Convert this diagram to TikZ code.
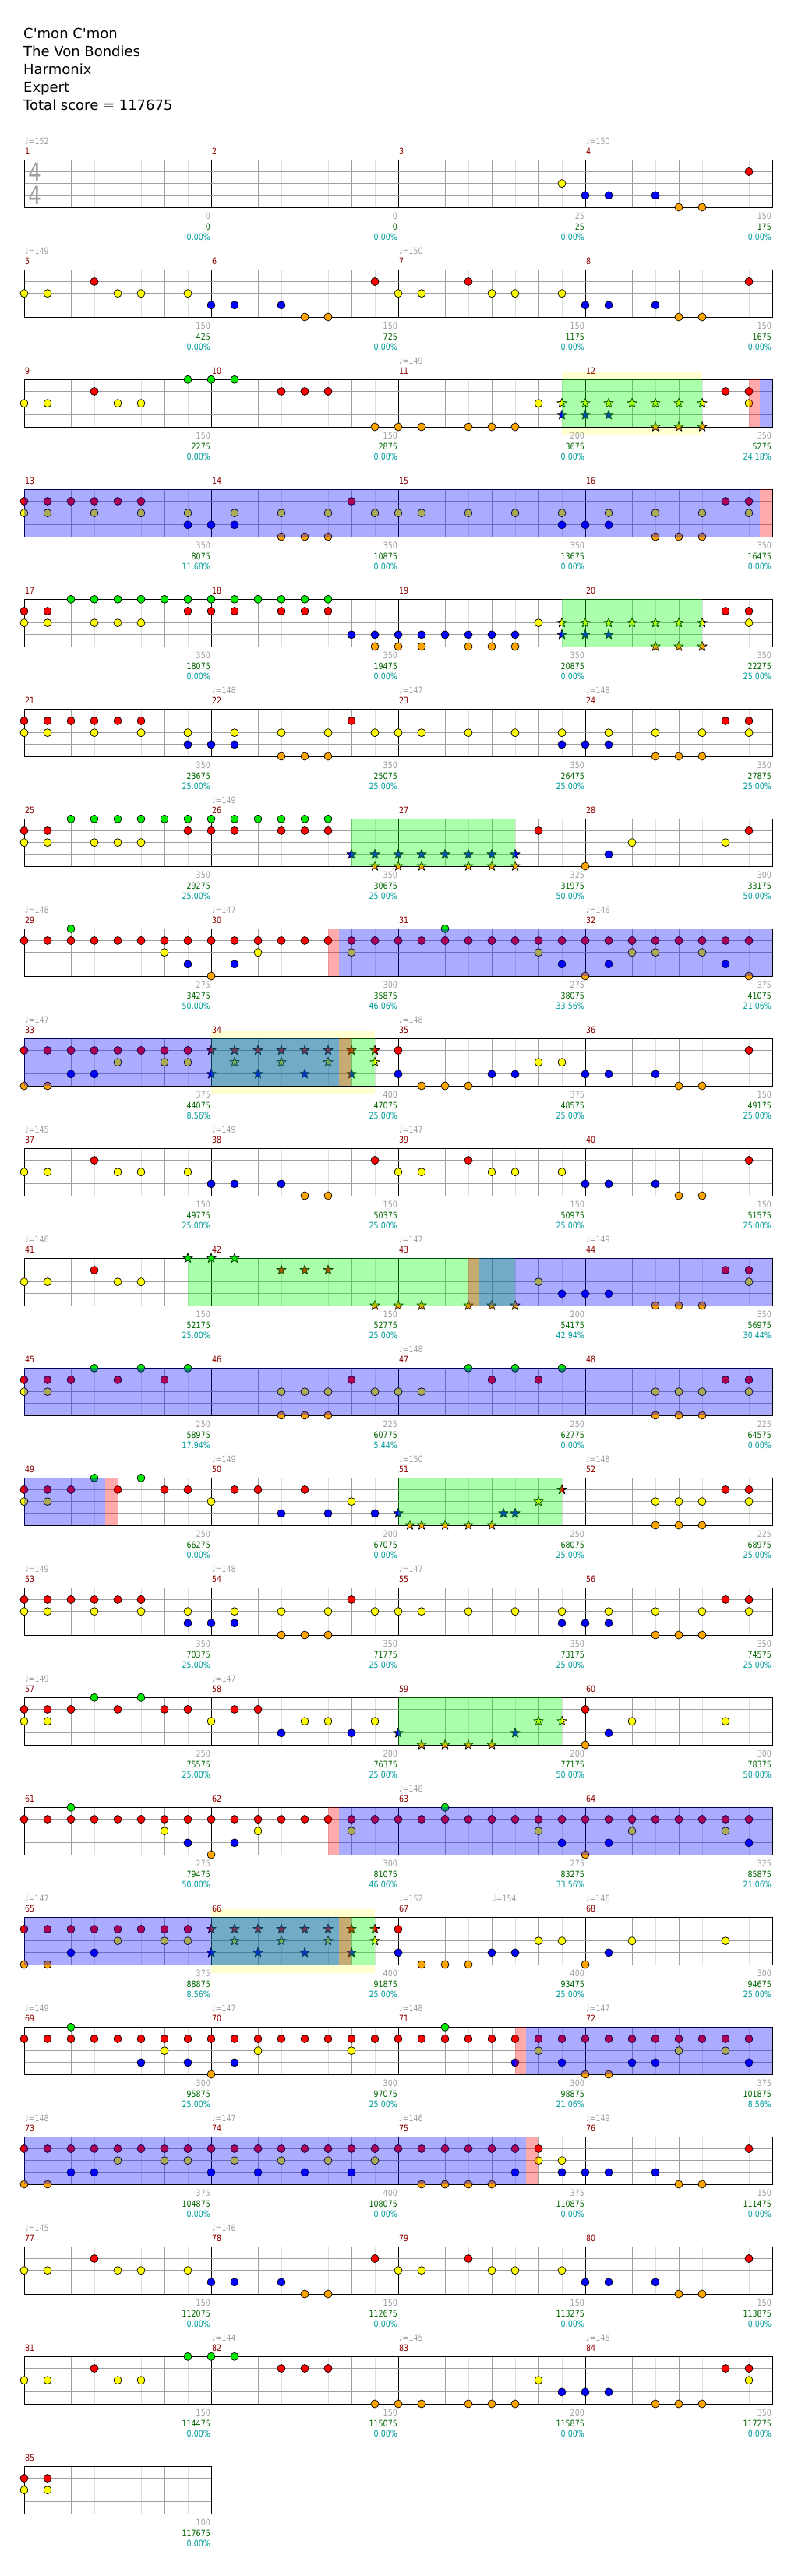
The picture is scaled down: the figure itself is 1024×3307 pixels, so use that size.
\documentclass[tikz,border=0pt]{standalone}
\usepackage{fontspec}
\setmainfont{DejaVu Sans}
\newfontfamily\lblfont[FakeStretch=0.83]{DejaVu Sans}
\usetikzlibrary{arrows}

\definecolor{lane0}{RGB}{0,235,0}
\definecolor{lane1}{RGB}{255,0,0}
\definecolor{lane2}{RGB}{255,255,0}
\definecolor{lane3}{RGB}{0,0,255}
\definecolor{lane4}{RGB}{255,165,0}
\definecolor{barred}{RGB}{139,0,0}
\definecolor{labgray}{RGB}{160,160,160}
\definecolor{labgreen}{RGB}{0,100,0}
\definecolor{labcyan}{RGB}{0,155,155}
\definecolor{gridlight}{RGB}{222,222,222}
\definecolor{gridmid}{RGB}{160,160,160}
\definecolor{glowyellow}{RGB}{255,255,208}

% one row of staff: row, measures
\newcommand\staff[2]{%
\pgfmathsetmacro\sty{205.3+141*#1}
\pgfmathsetmacro\stx{31+240*#2}
\pgfmathtruncatemacro\stn{8*#2}
\pgfmathtruncatemacro\stb{4*#2}
\fill[white] (31,\sty) rectangle (\stx,\sty+60.7);
\foreach \k in {1,...,\stn} \draw[eighth] ({31+30*\k},\sty) -- ++(0,60.7);
\foreach \k in {1,...,\stb} \draw[beat] ({31+60*\k},\sty) -- ++(0,60.7);
\foreach \k in {1,...,#2} \draw[barline] ({31+240*\k},\sty) -- ++(0,60.7);
\foreach \l in {1,2,3} \draw[beat] (31,{\sty+15.17*\l}) -- (\stx,{\sty+15.17*\l});
\draw[barline] (31,\sty) rectangle (\stx,\sty+60.7);
}
% notes: row, lane, eighths
\newcommand\gems[3]{\foreach \k in {#3}
\filldraw[gem,fill=lane#2] ({31+30*\k},{205.3+141*#1+15.17*#2}) circle (5pt);}
\newcommand\stars[3]{\foreach \k in {#3}
\filldraw[gem,fill=lane#2] ({31+30*\k},{205.3+141*#1+15.17*#2})
+(-90:6.5) -- +(-54:2.6) -- +(-18:6.5) -- +(18:2.6) -- +(54:6.5)
-- +(90:2.6) -- +(126:6.5) -- +(162:2.6) -- +(198:6.5) -- +(234:2.6) -- cycle;}
% shaded phrase over the staff: row, from, to, colour
\newcommand\band[4]{\fill[#4,opacity=0.33] ({31+30*#2},{205.3+141*#1}) rectangle ({31+30*#3},{205.3+141*#1+60.7});}
\newcommand\glow[3]{\fill[glowyellow] ({31+30*#2},{205.3+141*#1-10}) rectangle ({31+30*#3},{205.3+141*#1+71.3});}
% measure number and the three counts under it
\newcommand\meas[4]{%
\pgfmathtruncatemacro\mrow{(#1-1)/4}
\pgfmathtruncatemacro\mcol{mod(#1-1,4)}
\pgfmathsetmacro\mxa{31+240*\mcol}
\pgfmathsetmacro\mty{205.3+141*\mrow}
\node[barno] (m#1) at (\mxa+1,\mty-7.3) {#1};
\node[scorelab,text=labgray] (s#1) at (\mxa+239,\mty+76.5) {#2};
\node[scorelab,text=labgreen] (t#1) at (\mxa+239,\mty+89.8) {#3};
\node[scorelab,text=labcyan] (p#1) at (\mxa+239,\mty+102.8) {#4};
}
\newcommand\bpm[3]{\node[tempo] at ({32+30*#2},{205.3+141*#1-19.6}) {♩=#3};}
% the two riffs that come back
\newcommand\riffA[1]{%
\gems{#1}{2}{0,1,4,5,7,16,17,20,21,23}
\gems{#1}{1}{3,15,19,31}
\gems{#1}{3}{8,9,11,24,25,27}
\gems{#1}{4}{12,13,28,29}}
\newcommand\riffB[1]{%
\gems{#1}{1}{0,...,5,14,...,21,30,31}
\gems{#1}{2}{0,1,3,...,13,15,16,17,19,...,29,31}
\gems{#1}{3}{7,8,9,23,24,25}
\gems{#1}{4}{11,12,13,27,28,29}}

\begin{document}
\begin{tikzpicture}[line cap=round,line join=round,x=1pt,y=-1pt,
gem/.style={draw=black,line width=0.7pt},
eighth/.style={draw=gridlight,line width=0.8pt},
beat/.style={draw=gridmid,line width=0.8pt},
barline/.style={draw=black,line width=0.9pt},
barno/.style={font=\lblfont\fontsize{11.4}{13}\selectfont,text=barred,inner sep=0pt,anchor=base west},
scorelab/.style={font=\lblfont\fontsize{11.4}{13}\selectfont,inner sep=0pt,anchor=base east},
tempo/.style={font=\lblfont\fontsize{11.4}{13}\selectfont,text=labgray,inner sep=0pt,anchor=base west},
headline/.style={font=\fontsize{18}{22}\selectfont,inner sep=0pt,anchor=base west},
timesig/.style={font=\lblfont\fontsize{32}{34}\selectfont,text=labgray,inner sep=0pt}]
\useasboundingbox (0,0) rectangle (1024,3307);
\fill[white] (0,0) rectangle (1024,3307);
\node[headline] (song) at (30,49.3) {C\textquotesingle mon C\textquotesingle mon};
\node[headline] (artist) at (30,72.3) {The Von Bondies};
\node[headline] (charter) at (30,95.3) {Harmonix};
\node[headline] (level) at (30,118.3) {Expert};
\node[headline] (total) at (30,141.3) {Total score = 117675};
%
\staff{0}{4}
\node[timesig] (sigtop) at (44.5,220.5) {4};
\node[timesig] (sigbot) at (44.5,250.5) {4};
\gems{0}{2}{23}
\gems{0}{3}{24,25,27}
\gems{0}{4}{28,29}
\gems{0}{1}{31}
\bpm{0}{0}{152} \bpm{0}{24}{150}
%
\staff{1}{4}
\riffA{1}
\bpm{1}{0}{149} \bpm{1}{16}{150}
%
\glow{2}{23}{29}
\staff{2}{4}
\gems{2}{0}{7,8,9}
\gems{2}{1}{3,11,12,13,30,31}
\gems{2}{2}{0,1,4,5,22,31}
\stars{2}{2}{23,...,29}
\stars{2}{3}{23,24,25}
\gems{2}{4}{15,16,17,19,20,21}
\stars{2}{4}{27,28,29}
\band{2}{23}{29}{green}
\band{2}{31.47}{32}{blue}
\band{2}{31}{31.47}{red}
\bpm{2}{16}{149}
%
\staff{3}{4}
\riffB{3}
\band{3}{0}{31.47}{blue}
\band{3}{31.47}{32}{red}
%
\staff{4}{4}
\gems{4}{0}{2,...,13}
\gems{4}{1}{0,1,7,8,9,11,12,13,30,31}
\gems{4}{2}{0,1,3,4,5,22,31}
\stars{4}{2}{23,...,29}
\gems{4}{3}{14,...,21}
\stars{4}{3}{23,24,25}
\gems{4}{4}{15,16,17,19,20,21}
\stars{4}{4}{27,28,29}
\band{4}{23}{29}{green}
%
\staff{5}{4}
\riffB{5}
\bpm{5}{8}{148} \bpm{5}{16}{147} \bpm{5}{24}{148}
%
\staff{6}{4}
\gems{6}{0}{2,...,13}
\gems{6}{1}{0,1,7,8,9,11,12,13,22,...,31}
\gems{6}{2}{0,1,3,4,5,26,30}
\stars{6}{3}{14,...,21}
\gems{6}{3}{25}
\stars{6}{4}{15,16,17,19,20,21}
\gems{6}{4}{24}
\band{6}{14}{21}{green}
\bpm{6}{8}{149}
%
\staff{7}{4}
\gems{7}{0}{2,18}
\gems{7}{1}{0,...,31}
\gems{7}{2}{6,10,14,22,26,27,29}
\gems{7}{3}{7,9,23,25,30}
\gems{7}{4}{8,24,31}
\band{7}{13.47}{32}{blue}
\band{7}{13}{13.47}{red}
\bpm{7}{0}{148} \bpm{7}{8}{147} \bpm{7}{24}{146}
%
\glow{8}{8}{15}
\staff{8}{4}
\gems{8}{1}{0,...,7,16,...,22,31}
\stars{8}{1}{8,...,15}
\gems{8}{2}{4,6,7,22,23}
\stars{8}{2}{9,11,13,15}
\gems{8}{3}{2,3,16,20,21,24,25,27}
\stars{8}{3}{8,10,12,14}
\gems{8}{4}{0,1,17,18,19,28,29}
\band{8}{8}{15}{green}
\band{8}{0}{13.47}{blue}
\band{8}{13.47}{14}{red}
\bpm{8}{0}{147} \bpm{8}{16}{148}
%
\staff{9}{4}
\riffA{9}
\bpm{9}{0}{145} \bpm{9}{8}{149} \bpm{9}{16}{147}
%
\staff{10}{4}
\gems{10}{2}{0,1,4,5,22,...,29,31}
\gems{10}{1}{3,30,31}
\stars{10}{0}{7,8,9}
\stars{10}{1}{11,12,13}
\stars{10}{4}{15,16,17,19,20,21}
\gems{10}{3}{23,24,25}
\gems{10}{4}{27,28,29}
\band{10}{7}{21}{green}
\band{10}{19.47}{32}{blue}
\band{10}{19}{19.47}{red}
\bpm{10}{0}{146} \bpm{10}{16}{147} \bpm{10}{24}{149}
%
\staff{11}{4}
\gems{11}{0}{3,5,7,19,21,23}
\gems{11}{1}{0,1,2,4,6,14,...,18,20,22,30,31}
\gems{11}{2}{0,1,11,12,13,15,16,17,27,28,29,31}
\gems{11}{4}{11,12,13,27,28,29}
\band{11}{0}{32}{blue}
\bpm{11}{16}{148}
%
\staff{12}{4}
\gems{12}{0}{3,5}
\gems{12}{1}{0,1,2,4,6,7,9,10,12,30,31}
\stars{12}{1}{23}
\gems{12}{2}{0,1,8,14,27,28,29,31}
\stars{12}{2}{22}
\gems{12}{3}{11,13,15}
\stars{12}{3}{16,20.5,21}
\stars{12}{4}{16.5,17,18,19,20}
\gems{12}{4}{27,28,29}
\band{12}{16}{23}{green}
\band{12}{0}{3.48}{blue}
\band{12}{3.48}{4}{red}
\bpm{12}{8}{149} \bpm{12}{16}{150} \bpm{12}{24}{148}
%
\staff{13}{4}
\riffB{13}
\bpm{13}{0}{149} \bpm{13}{8}{148} \bpm{13}{16}{147}
%
\staff{14}{4}
\gems{14}{0}{3,5}
\gems{14}{1}{0,1,2,4,6,7,9,10,24,...,31}
\gems{14}{2}{0,1,8,12,13,15,26,30}
\stars{14}{2}{22,23}
\gems{14}{3}{11,14,25}
\stars{14}{3}{16,21}
\stars{14}{4}{17,18,19,20}
\gems{14}{4}{24}
\band{14}{16}{23}{green}
\bpm{14}{0}{149} \bpm{14}{8}{147}
%
\staff{15}{4}
\gems{15}{0}{2,18}
\gems{15}{1}{0,...,31}
\gems{15}{2}{6,10,14,22,26,30}
\gems{15}{3}{7,9,23,25,31}
\gems{15}{4}{8,24}
\band{15}{13.47}{32}{blue}
\band{15}{13}{13.47}{red}
\bpm{15}{16}{148}
%
\glow{16}{8}{15}
\staff{16}{4}
\gems{16}{1}{0,...,7,16,...,31}
\stars{16}{1}{8,...,15}
\gems{16}{2}{4,6,7,22,23,26,30}
\stars{16}{2}{9,11,13,15}
\gems{16}{3}{2,3,16,20,21,25}
\stars{16}{3}{8,10,12,14}
\gems{16}{4}{0,1,17,18,19,24}
\band{16}{8}{15}{green}
\band{16}{0}{13.47}{blue}
\band{16}{13.47}{14}{red}
\bpm{16}{0}{147} \bpm{16}{16}{152} \bpm{16}{20}{154} \bpm{16}{24}{146}
%
\staff{17}{4}
\gems{17}{0}{2,18}
\gems{17}{1}{0,...,31}
\gems{17}{2}{6,10,14,22,28,30}
\gems{17}{3}{5,7,9,21,23,26,27,31}
\gems{17}{4}{8,24,25}
\band{17}{21.47}{32}{blue}
\band{17}{21}{21.47}{red}
\bpm{17}{0}{149} \bpm{17}{8}{147} \bpm{17}{16}{148} \bpm{17}{24}{147}
%
\staff{18}{4}
\gems{18}{1}{0,...,22,31}
\gems{18}{2}{4,6,7,9,11,13,15,22,23}
\gems{18}{3}{2,3,8,10,12,14,21,23,24,25,27}
\gems{18}{4}{0,1,17,18,19,20,28,29}
\band{18}{0}{21.47}{blue}
\band{18}{21.47}{22}{red}
\bpm{18}{0}{148} \bpm{18}{8}{147} \bpm{18}{16}{146} \bpm{18}{24}{149}
%
\staff{19}{4}
\riffA{19}
\bpm{19}{0}{145} \bpm{19}{8}{146}
%
\staff{20}{4}
\gems{20}{0}{7,8,9}
\gems{20}{1}{3,11,12,13,30,31}
\gems{20}{2}{0,1,4,5,22,...,29,31}
\gems{20}{3}{23,24,25}
\gems{20}{4}{15,16,17,19,20,21,27,28,29}
\bpm{20}{8}{144} \bpm{20}{16}{145} \bpm{20}{24}{146}
%
\staff{21}{1}
\gems{21}{1}{0,1}
\gems{21}{2}{0,1}
%
\meas{1}{0}{0}{0.00\%} \meas{2}{0}{0}{0.00\%} \meas{3}{25}{25}{0.00\%} \meas{4}{150}{175}{0.00\%}
\meas{5}{150}{425}{0.00\%} \meas{6}{150}{725}{0.00\%} \meas{7}{150}{1175}{0.00\%} \meas{8}{150}{1675}{0.00\%}
\meas{9}{150}{2275}{0.00\%} \meas{10}{150}{2875}{0.00\%} \meas{11}{200}{3675}{0.00\%} \meas{12}{350}{5275}{24.18\%}
\meas{13}{350}{8075}{11.68\%} \meas{14}{350}{10875}{0.00\%} \meas{15}{350}{13675}{0.00\%} \meas{16}{350}{16475}{0.00\%}
\meas{17}{350}{18075}{0.00\%} \meas{18}{350}{19475}{0.00\%} \meas{19}{350}{20875}{0.00\%} \meas{20}{350}{22275}{25.00\%}
\meas{21}{350}{23675}{25.00\%} \meas{22}{350}{25075}{25.00\%} \meas{23}{350}{26475}{25.00\%} \meas{24}{350}{27875}{25.00\%}
\meas{25}{350}{29275}{25.00\%} \meas{26}{350}{30675}{25.00\%} \meas{27}{325}{31975}{50.00\%} \meas{28}{300}{33175}{50.00\%}
\meas{29}{275}{34275}{50.00\%} \meas{30}{300}{35875}{46.06\%} \meas{31}{275}{38075}{33.56\%} \meas{32}{375}{41075}{21.06\%}
\meas{33}{375}{44075}{8.56\%} \meas{34}{400}{47075}{25.00\%} \meas{35}{375}{48575}{25.00\%} \meas{36}{150}{49175}{25.00\%}
\meas{37}{150}{49775}{25.00\%} \meas{38}{150}{50375}{25.00\%} \meas{39}{150}{50975}{25.00\%} \meas{40}{150}{51575}{25.00\%}
\meas{41}{150}{52175}{25.00\%} \meas{42}{150}{52775}{25.00\%} \meas{43}{200}{54175}{42.94\%} \meas{44}{350}{56975}{30.44\%}
\meas{45}{250}{58975}{17.94\%} \meas{46}{225}{60775}{5.44\%} \meas{47}{250}{62775}{0.00\%} \meas{48}{225}{64575}{0.00\%}
\meas{49}{250}{66275}{0.00\%} \meas{50}{200}{67075}{0.00\%} \meas{51}{250}{68075}{25.00\%} \meas{52}{225}{68975}{25.00\%}
\meas{53}{350}{70375}{25.00\%} \meas{54}{350}{71775}{25.00\%} \meas{55}{350}{73175}{25.00\%} \meas{56}{350}{74575}{25.00\%}
\meas{57}{250}{75575}{25.00\%} \meas{58}{200}{76375}{25.00\%} \meas{59}{200}{77175}{50.00\%} \meas{60}{300}{78375}{50.00\%}
\meas{61}{275}{79475}{50.00\%} \meas{62}{300}{81075}{46.06\%} \meas{63}{275}{83275}{33.56\%} \meas{64}{325}{85875}{21.06\%}
\meas{65}{375}{88875}{8.56\%} \meas{66}{400}{91875}{25.00\%} \meas{67}{400}{93475}{25.00\%} \meas{68}{300}{94675}{25.00\%}
\meas{69}{300}{95875}{25.00\%} \meas{70}{300}{97075}{25.00\%} \meas{71}{300}{98875}{21.06\%} \meas{72}{375}{101875}{8.56\%}
\meas{73}{375}{104875}{0.00\%} \meas{74}{400}{108075}{0.00\%} \meas{75}{375}{110875}{0.00\%} \meas{76}{150}{111475}{0.00\%}
\meas{77}{150}{112075}{0.00\%} \meas{78}{150}{112675}{0.00\%} \meas{79}{150}{113275}{0.00\%} \meas{80}{150}{113875}{0.00\%}
\meas{81}{150}{114475}{0.00\%} \meas{82}{150}{115075}{0.00\%} \meas{83}{200}{115875}{0.00\%} \meas{84}{350}{117275}{0.00\%}
\meas{85}{100}{117675}{0.00\%}
\end{tikzpicture}
\end{document}
